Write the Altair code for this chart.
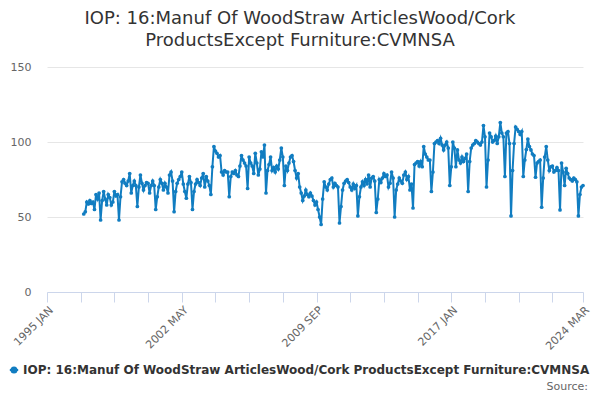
import altair as alt
import pandas as pd

title_lines = ["IOP: 16:Manuf Of WoodStraw ArticlesWood/Cork", "ProductsExcept Furniture:CVMNSA"]
series_name = "IOP: 16:Manuf Of WoodStraw ArticlesWood/Cork ProductsExcept Furniture:CVMNSA"
source_text = "Source:"

axis_start_year = 1995
first_year = 1997

y1997 = [52, 53.5, 60, 58.7, 61, 59, 60, 55, 65, 62, 66, 48]
y1998 = [61, 67, 62, 58, 65, 63, 58, 60, 67, 64, 65, 48]
y1999 = [63.5, 73.5, 75, 72.5, 71, 74, 79, 66, 71, 74, 71, 57]
y2000 = [70, 78, 72.5, 68, 71, 73, 72.5, 66, 71, 74, 71, 55]
y2001 = [63.5, 70, 75, 72.5, 68, 72.5, 70, 66, 78, 80, 74, 53.5]
y2002 = [67, 72.5, 75, 77, 80, 72, 67, 62.5, 72, 77, 73, 55]
y2003 = [67, 72, 75, 73, 71, 76, 79, 70, 77, 74, 71, 65]
y2004 = [83.5, 97, 94, 92.5, 90, 91, 80, 78, 81, 80, 80, 63.5]
y2005 = [77, 80, 79, 81, 78, 77, 84, 91, 88, 86, 84, 69]
y2006 = [90, 86, 84, 79, 92.5, 86, 78, 82, 93.5, 90, 98, 66]
y2007 = [81, 85, 90, 81, 83, 80, 84, 82, 88, 96, 90, 71]
y2008 = [84, 81, 86, 90, 91, 87, 81, 76, 79, 70, 66, 61]
y2009 = [64, 68, 65, 63.5, 66, 64, 61, 58, 60, 55, 50, 45]
y2010 = [62, 73.5, 70, 68, 72, 75, 76, 70, 72.5, 71, 70, 46]
y2011 = [57, 68, 72.5, 74, 75, 73, 70, 68, 72, 69, 71, 50.7]
y2012 = [63.5, 70, 73.5, 71, 75, 72, 78, 70, 76, 77, 74, 53]
y2013 = [62, 75, 73, 76, 79, 77, 78, 70, 72.5, 80, 76, 50]
y2014 = [68, 72, 76, 74, 72.5, 78, 80, 75, 77, 68, 72, 56]
y2015 = [85, 86, 87, 84, 87, 83.5, 97, 92, 90, 88, 88, 67]
y2016 = [80, 99, 100, 101, 99, 102.5, 98, 94.7, 98, 100, 96, 71]
y2017 = [83.5, 100, 96, 83.5, 94.7, 88, 86, 90, 87, 89, 92, 67]
y2018 = [87, 96, 98, 99, 101, 100, 99, 98, 100, 111, 103.5, 70]
y2019 = [88, 106, 103.5, 100, 101, 104, 99, 103.5, 113, 106, 103.5, 77]
y2020 = [106, 107, 99, 50.7, 81, 99, 110, 108.5, 107, 105, 107, 77]
y2021 = [88, 95, 102, 97, 94.7, 92, 91, 76.5, 86, 87, 88, 56.5]
y2022 = [76, 90, 97, 88, 81, 83.5, 84, 80, 81, 83, 81, 54.7]
y2023 = [86, 80, 71, 82.5, 79, 76, 75, 74, 76, 75, 73.5, 50.7]
y2024 = [65, 70, 71]

yearly = [y1997, y1998, y1999, y2000, y2001, y2002, y2003, y2004, y2005, y2006,
          y2007, y2008, y2009, y2010, y2011, y2012, y2013, y2014, y2015, y2016,
          y2017, y2018, y2019, y2020, y2021, y2022, y2023, y2024]

tick_months = [0, 22, 44, 66, 88, 110, 132, 154, 176, 198, 220, 242, 264, 286, 308, 330, 350]
tick_labels = {0: "1995 JAN", 88: "2002 MAY", 176: "2009 SEP", 264: "2017 JAN", 350: "2024 MAR"}
y_ticks = [0, 50, 100, 150]

rows = []
for i, vals in enumerate(yearly):
    yr = first_year + i
    for m, v in enumerate(vals):
        rows.append({"t": (yr - axis_start_year) * 12 + m,
                     "date": f"{yr}-{m + 1:02d}",
                     "v": v,
                     "series": series_name})
df = pd.DataFrame(rows)

label_expr = " : ".join(f"datum.value == {k} ? '{v}'" for k, v in tick_labels.items()) + " : ''"

blue = "#117dc1"
font = "DejaVu Sans"

line = alt.Chart(df).mark_line(
    strokeWidth=2,
    point=alt.OverlayMarkDef(size=14, filled=True, opacity=1),
).encode(
    x=alt.X("t:Q",
            scale=alt.Scale(domain=[0, 350], nice=False, zero=False),
            axis=alt.Axis(values=tick_months, labelExpr=label_expr, labelAngle=-45,
                          grid=False, domainColor="#ccd6eb", tickColor="#ccd6eb",
                          tickSize=10, labelColor="#666666", labelFontSize=11,
                          labelFont=font, title=None, labelPadding=2,
                          labelOverlap=False, labelBound=False, labelFlush=False)),
    y=alt.Y("v:Q",
            scale=alt.Scale(domain=[0, 150], nice=False),
            axis=alt.Axis(values=y_ticks, grid=True, gridColor="#e6e6e6", domain=False,
                          ticks=False, labelPadding=16, labelColor="#666666",
                          labelFontSize=11, labelFont=font, title=None)),
    color=alt.Color("series:N",
                    scale=alt.Scale(range=[blue]),
                    legend=alt.Legend(orient="none", legendX=-39, legendY=297, title=None,
                                      padding=0, labelFontSize=12, labelFontWeight="bold",
                                      labelColor="#333333", labelFont=font, labelLimit=1000,
                                      symbolType="M-1,0L1,0M-0.6,0A0.6,0.6,0,1,1,0.6,0A0.6,0.6,0,1,1,-0.6,0Z",
                                      symbolSize=70, symbolStrokeWidth=2,
                                      symbolStrokeColor=blue, symbolFillColor=blue,
                                      labelOffset=3)),
    tooltip=["date:N", "v:Q"],
)

src = alt.Chart(pd.DataFrame({"s": [source_text]})).mark_text(
    align="right", baseline="middle", fontSize=11, color="#666666", font=font
).encode(text="s:N", x=alt.value(541), y=alt.value(320))

chart = alt.layer(line, src).properties(
    width=536,
    height=225,
    autosize=alt.AutoSizeParams(type="none"),
    padding={"left": 39, "top": 59, "right": 9, "bottom": 100},
    title=alt.Title(text=title_lines, fontSize=18, fontWeight="normal", color="#333333",
                    font=font, anchor="middle", dx=-15, offset=11, lineHeight=22),
).configure_view(stroke=None)

chart.save("out.html", embed_options={"renderer": "svg", "actions": False})
